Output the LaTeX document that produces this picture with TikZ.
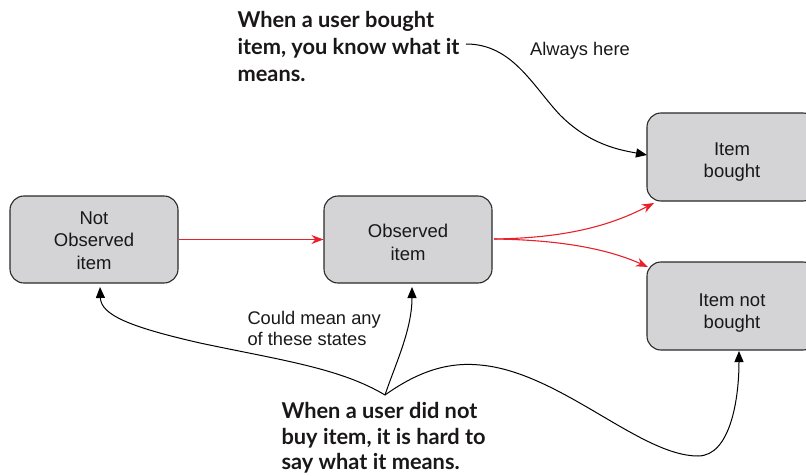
\documentclass[tikz,border=0pt]{standalone}
\usepackage{fontspec}
\setmainfont{Liberation Sans}
\newfontfamily\boldfam{Lato}
\usetikzlibrary{arrows.meta}
\definecolor{boxfill}{HTML}{D4D4D6}
\definecolor{boxdraw}{HTML}{2A2A2A}
\definecolor{txt}{HTML}{1A1718}
\definecolor{redline}{HTML}{E8202A}
\tikzset{
  state/.style={draw=boxdraw, fill=boxfill, line width=1.1pt, rounded corners=14pt,
    minimum width=168pt, minimum height=87pt},
  boxtext/.style={align=center, text=txt, font=\fontsize{18.5}{22.5}\selectfont},
  note/.style={align=left, text=txt, font=\fontsize{18.3}{21}\selectfont},
  bignote/.style={align=left, text=txt, font=\boldfam\bfseries\fontsize{21.8}{27}\selectfont},
  redarrow/.style={draw=redline, line width=1.1pt, -{Stealth[length=12pt,width=9pt]}},
  blackarrow/.style={draw=black, line width=1pt, -{Triangle[length=11pt,width=9pt]}}
}
\begin{document}
\begin{tikzpicture}[x=1pt,y=-1pt]
\useasboundingbox (0,0) rectangle (806,476);
\node[state, label={[boxtext, yshift=-1pt]center:{Not\\Observed\\item}}] (nobs) at (94,239.5) {};
\node[state, label={[boxtext, yshift=-3pt]center:{Observed\\item}}] (obs) at (408,239.5) {};
\node[state, minimum width=170pt, minimum height=88pt, label={[boxtext, yshift=-5pt]center:{Item\\bought}}] (bought) at (732,157) {};
\node[state, minimum width=170pt, minimum height=88pt, label={[boxtext, yshift=-7pt]center:{Item not\\bought}}] (notbought) at (732,306) {};

\node[bignote, anchor=west] (topnote) at (234,46) {When a user bought\\item, you know what it\\means.};
\node[note] (always) at (580,51) {Always here};
\node[note, anchor=north west] (could) at (244,307.5) {Could mean any\\of these states};
\node[bignote, anchor=north west, font=\boldfam\bfseries\fontsize{21.8}{25.5}\selectfont] (botnote) at (278,399) {When a user did not\\buy item, it is hard to\\say what it means.};

\coordinate (ts) at (466,44);
\coordinate (v) at (385,395);
\coordinate (rs) at (494,239);

\draw[redarrow] (nobs.east) -- (obs.west);
\draw[redarrow] (rs) .. controls (565,238) and (610,226) .. (654,203);
\draw[redarrow] (rs) .. controls (565,240) and (610,250) .. (648,267);

\draw[blackarrow] (ts) .. controls (512,44) and (532,85) .. (560,115) .. controls (590,145) and (620,150) .. (647,155);

\draw[blackarrow] (v) .. controls (340,368) and (280,360) .. (200,343) .. controls (130,327) and (101,315) .. (100,287);
\draw[blackarrow] (v) .. controls (395,365) and (412,330) .. (412,287);
\draw[blackarrow] (v) .. controls (420,370) and (450,362) .. (480,365) .. controls (560,372) and (640,456) .. (698,456) .. controls (730,456) and (739,400) .. (739,351);
\end{tikzpicture}
\end{document}
